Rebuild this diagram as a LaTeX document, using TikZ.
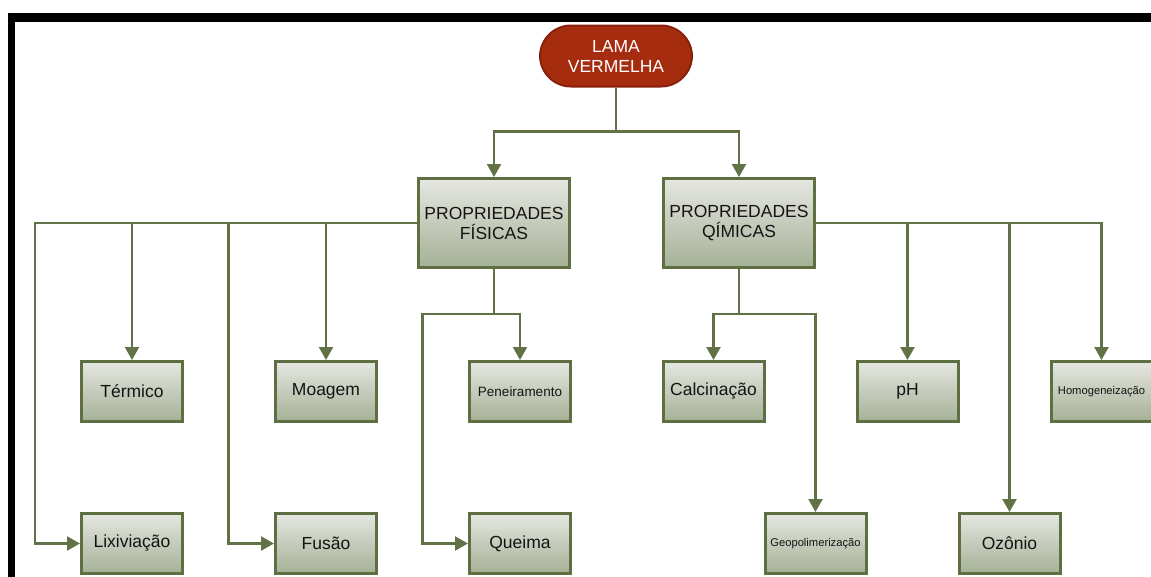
\documentclass[tikz,border=0pt]{standalone}
\usepackage{fontspec}
\setmainfont{Liberation Sans}
\usetikzlibrary{arrows.meta}
\definecolor{olive}{RGB}{94,112,66}
\definecolor{lineg}{RGB}{96,114,70}
\definecolor{gtop}{RGB}{229,231,225}
\definecolor{gbot}{RGB}{166,176,150}
\definecolor{lamafill}{RGB}{166,44,16}
\definecolor{lamaline}{RGB}{135,32,12}
\definecolor{txt}{RGB}{20,20,20}
\begin{document}
\begin{tikzpicture}[x=1pt,y=-1pt,
  box/.style={draw=olive, line width=3pt, top color=gtop, bottom color=gbot,
    minimum width=101pt, minimum height=60pt, inner sep=0pt, align=center,
    text=txt, font=\fontsize{17.5}{20}\selectfont},
  bigbox/.style={box, minimum width=151pt, minimum height=89pt},
  smallt/.style={font=\fontsize{11.2}{13}\selectfont},
  midt/.style={font=\fontsize{13.5}{15}\selectfont},
  lama/.style={draw=lamaline, line width=2pt, fill=lamafill, rounded corners=31pt,
    minimum width=152pt, minimum height=61pt, inner sep=0pt, align=center,
    text=white, font=\fontsize{17.5}{20}\selectfont},
  conn/.style={draw=lineg, line width=2.2pt, -{Triangle[width=14pt,length=13pt]}}]
\useasboundingbox (0,0) rectangle (1151,576);
% frame
\fill[black] (8,13) rectangle (15,577);
\fill[black] (8,13) rectangle (1152,22);
% nodes
\node[lama] (lama) at (616,56) {LAMA\\VERMELHA};
\node[bigbox] (pf) at (494,223) {PROPRIEDADES\\FÍSICAS};
\node[bigbox] (pq) at (739,223) {PROPRIEDADES\\QÍMICAS};
\node[box] (term) at (132,391.5) {Térmico};
\node[box] (moag) at (326,391.5) {Moagem};
\node[box,midt] (pen) at (520,391.5) {Peneiramento};
\node[box] (cal) at (713.5,391.5) {Calcinação};
\node[box] (ph) at (907.5,391.5) {pH};
\node[box,smallt] (hom) at (1101.5,391.5) {Homogeneização};
\node[box] (lix) at (132,543.5) {Lixiviação};
\node[box] (fus) at (326,543.5) {Fusão};
\node[box] (que) at (520,543.5) {Queima};
\node[box,smallt] (geo) at (815.5,543.5) {Geopolimerização};
\node[box] (oz) at (1009.5,543.5) {Ozônio};
% connectors from top
\draw[conn] (lama.south) -- ++(0,44) -| (pf.north);
\draw[conn] (lama.south) -- ++(0,44) -| (pq.north);
% physical
\draw[conn] (pf.west) -| (term.north);
\draw[conn] (pf.west) -| (moag.north);
\draw[conn] (pf.west) -| ([xshift=-45pt]lix.west) -- (lix.west);
\draw[conn] (pf.west) -| ([xshift=-45.5pt]fus.west) -- (fus.west);
\draw[conn] (pf.south) -- ++(0,45) -| (pen.north);
\draw[conn] (pf.south) -- ++(0,45) -| ([xshift=-45.5pt]que.west) -- (que.west);
% chemical
\draw[conn] (pq.east) -| (ph.north);
\draw[conn] (pq.east) -| (oz.north);
\draw[conn] (pq.east) -| (hom.north);
\draw[conn] (pq.south) -- ++(0,45) -| (cal.north);
\draw[conn] (pq.south) -- ++(0,45) -| (geo.north);
\end{tikzpicture}
\end{document}
